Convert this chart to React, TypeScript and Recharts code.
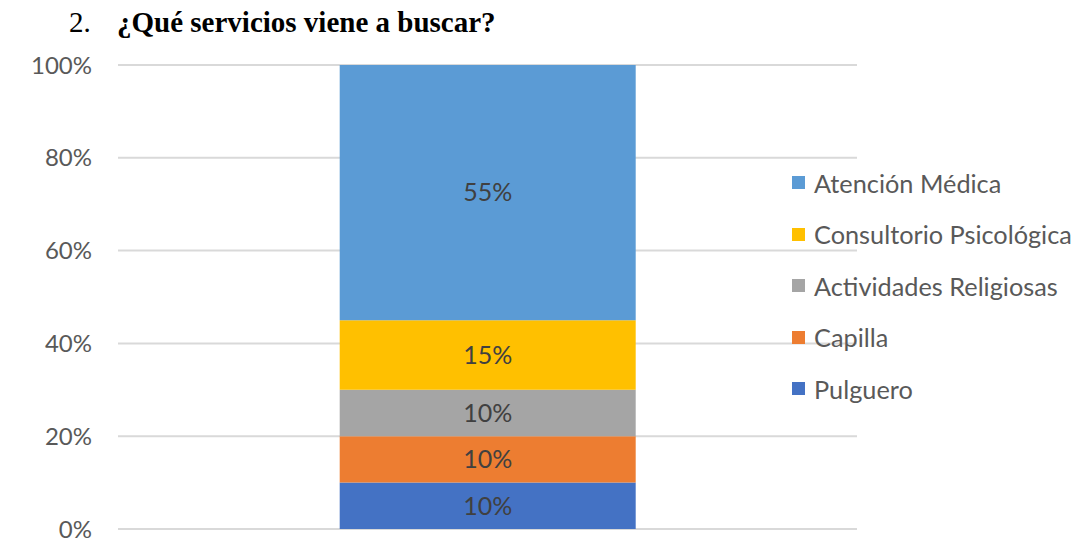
import React from "react";
import { BarChart, Bar, XAxis, YAxis, CartesianGrid, LabelList } from "recharts";

const categories = ["Servicios"];
const seriesNames = ["Pulguero", "Capilla", "Actividades Religiosas", "Consultorio Psicológica", "Atención Médica"];
const seriesKeys = ["pulguero", "capilla", "actividades", "consultorio", "atencion"];
const seriesValues = [0.10, 0.10, 0.10, 0.15, 0.55];
const seriesColors = ["#4472c4", "#ed7d31", "#a5a5a5", "#ffc000", "#5b9bd5"];
const yTicks = [0, 0.2, 0.4, 0.6, 0.8, 1];

const data = categories.map((c) => {
  const row: Record<string, any> = { name: c };
  seriesKeys.forEach((k, i) => (row[k] = seriesValues[i]));
  return row;
});

const pct = (v: any) => `${Math.round(Number(v) * 100)}%`;
const FONT = "Lato, 'Open Sans', sans-serif";

export default function App() {
  const legendItems = seriesNames.map((n, i) => ({ name: n, color: seriesColors[i] })).reverse();
  return (
    <div style={{ position: "absolute", left: 0, top: 0, width: 1084, height: 540, background: "#fff", overflow: "hidden" }}>
      <div style={{ position: "absolute", left: 69, top: 6, fontFamily: "'Liberation Serif', 'Times New Roman', serif", fontSize: 29, color: "#000", whiteSpace: "nowrap" }}>
        <span>2.</span>
        <span style={{ position: "absolute", left: 48, fontWeight: "bold" }}>¿Qué servicios viene a buscar?</span>
      </div>
      <BarChart width={1084} height={540} data={data} margin={{ top: 65, right: 227, bottom: 11, left: 0 }} barCategoryGap="30%">
        <CartesianGrid vertical={false} stroke="#d9d9d9" strokeWidth={2} />
        <XAxis dataKey="name" hide />
        <YAxis
          width={118}
          domain={[0, 1]}
          ticks={yTicks}
          interval={0}
          tickFormatter={pct}
          axisLine={false}
          tickLine={false}
          tickSize={0}
          tickMargin={26}
          tick={{ fill: "#595959", fontSize: 24, fontFamily: FONT }}
        />
        {seriesKeys.map((k, i) => (
          <Bar key={k} dataKey={k} name={seriesNames[i]} stackId="a" fill={seriesColors[i]} isAnimationActive={false}>
            <LabelList dataKey={k} position="center" formatter={pct} fill="#404040" fontSize={25} fontFamily={FONT} />
          </Bar>
        ))}
      </BarChart>
      <div style={{ position: "absolute", left: 792, top: 157, fontFamily: FONT, fontSize: 25.3, color: "#595959" }}>
        {legendItems.map((it) => (
          <div key={it.name} style={{ display: "flex", alignItems: "center", height: 51.5, whiteSpace: "nowrap" }}>
            <span style={{ width: 13, height: 13, background: it.color, display: "inline-block", marginRight: 9 }} />
            <span>{it.name}</span>
          </div>
        ))}
      </div>
    </div>
  );
}
